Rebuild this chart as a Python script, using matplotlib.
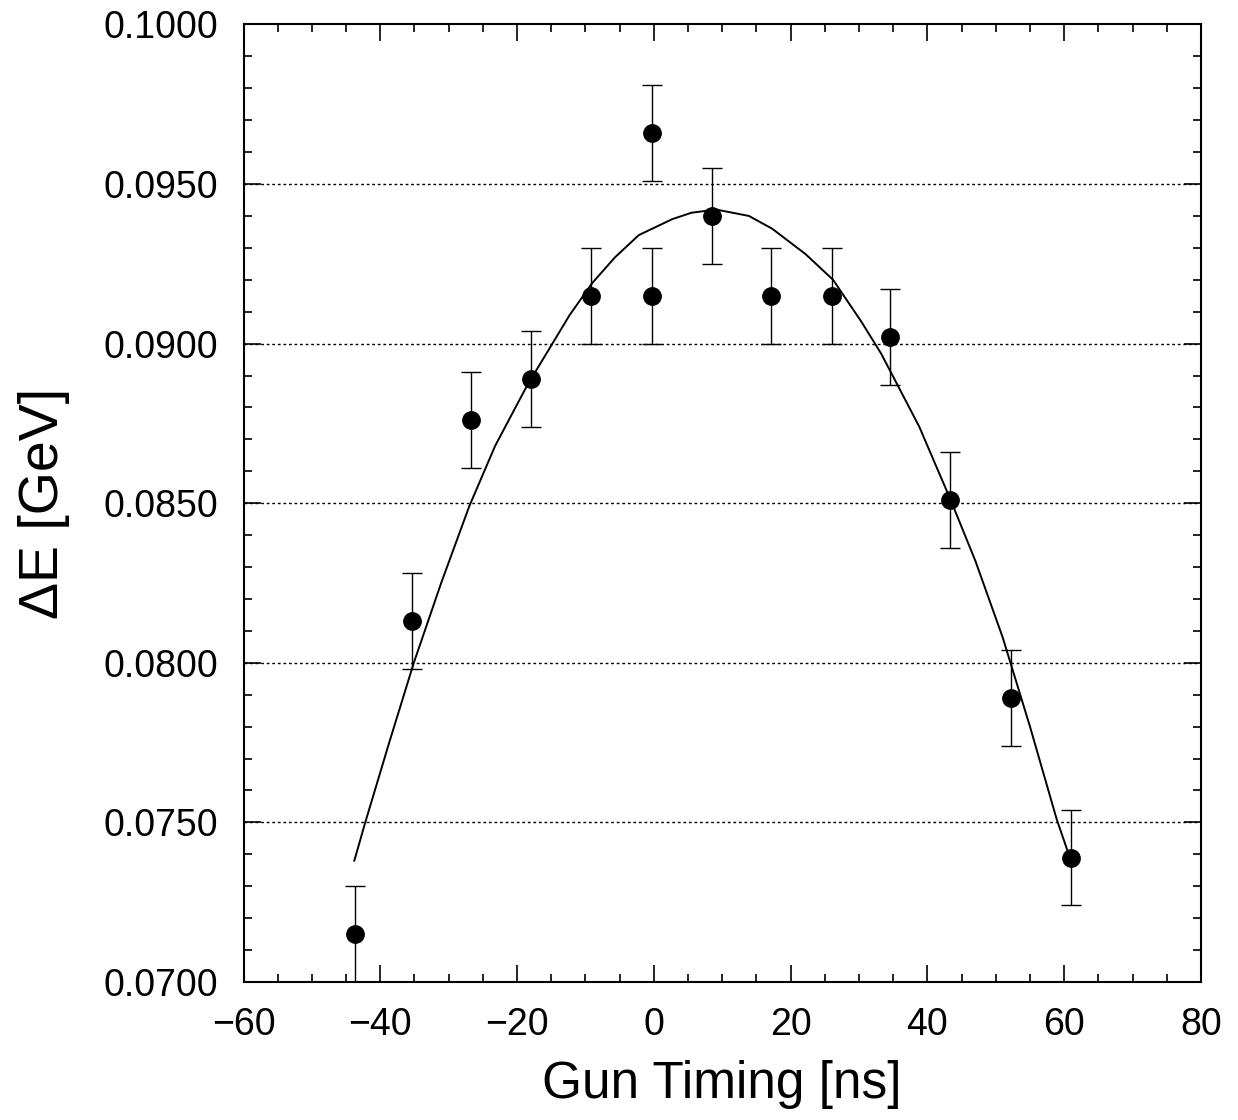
import matplotlib
matplotlib.use('Agg')
import matplotlib.pyplot as plt
from matplotlib.ticker import MultipleLocator, FormatStrFormatter

plt.rcParams['font.family'] = ['Liberation Sans', 'DejaVu Sans']

# measured points
timing = [-43.7, -35.4, -26.7, -17.9, -9.2, -0.3, -0.3, 8.5, 17.2, 26.0, 34.5, 43.3, 52.2, 61.0]
delta_e = [0.0715, 0.0813, 0.0876, 0.0889, 0.0915, 0.0966, 0.0915, 0.0940,
           0.0915, 0.0915, 0.0902, 0.0851, 0.0789, 0.0739]
errors = [0.0015] * len(timing)

# fitted curve
fit_x = [-43.8, -42.2, -38.7, -35.1, -31.1, -27.0, -23.2, -18.5, -12.3, -9.0, -5.7,
         -2.2, 2.7, 5.5, 9.1, 13.9, 17.3, 22.2, 26.2, 30.3, 33.2, 38.8, 43.4, 47.0,
         51.0, 55.0, 58.9, 60.5]
fit_y = [0.0738, 0.0750, 0.0775, 0.0800, 0.0825, 0.0849, 0.0868, 0.0887, 0.0909, 0.0919, 0.0927,
         0.0934, 0.0939, 0.0941, 0.0942, 0.0940, 0.0936, 0.0928, 0.0920, 0.0907, 0.0897, 0.0874,
         0.0851, 0.0832, 0.0808, 0.0780, 0.0751, 0.0741]

fig = plt.figure(figsize=(12.38, 11.2), dpi=100)
ax = fig.add_axes([0.1967, 0.1232, 0.7734, 0.855])

for y in [0.075, 0.080, 0.085, 0.090, 0.095]:
    ax.axhline(y, color='black', linestyle=(0, (2, 2)), linewidth=1.0, zorder=1)

ax.plot(fit_x, fit_y, color='black', linewidth=1.4, zorder=2)
ax.errorbar(timing, delta_e, yerr=errors, fmt='o', color='black', markersize=12.5,
            elinewidth=1.0, capsize=7, capthick=1.0, zorder=3)

ax.set_xlim(-60, 80)
ax.set_ylim(0.07, 0.10)
ax.xaxis.set_major_locator(MultipleLocator(20))
ax.xaxis.set_minor_locator(MultipleLocator(5))
ax.yaxis.set_major_locator(MultipleLocator(0.005))
ax.yaxis.set_minor_locator(MultipleLocator(0.001))
ax.yaxis.set_major_formatter(FormatStrFormatter('%.4f'))

ax.tick_params(which='both', direction='in', top=True, right=True, width=1.2)
ax.tick_params(which='major', length=12, labelsize=27, pad=18)
ax.tick_params(which='minor', length=6)
for s in ax.spines.values():
    s.set_linewidth(1.5)

ax.set_xlabel('Gun Timing [ns]', fontsize=37, labelpad=12)
ax.set_ylabel('ΔE [GeV]', fontsize=40, labelpad=24)

fig.savefig('out.png', dpi=100)
